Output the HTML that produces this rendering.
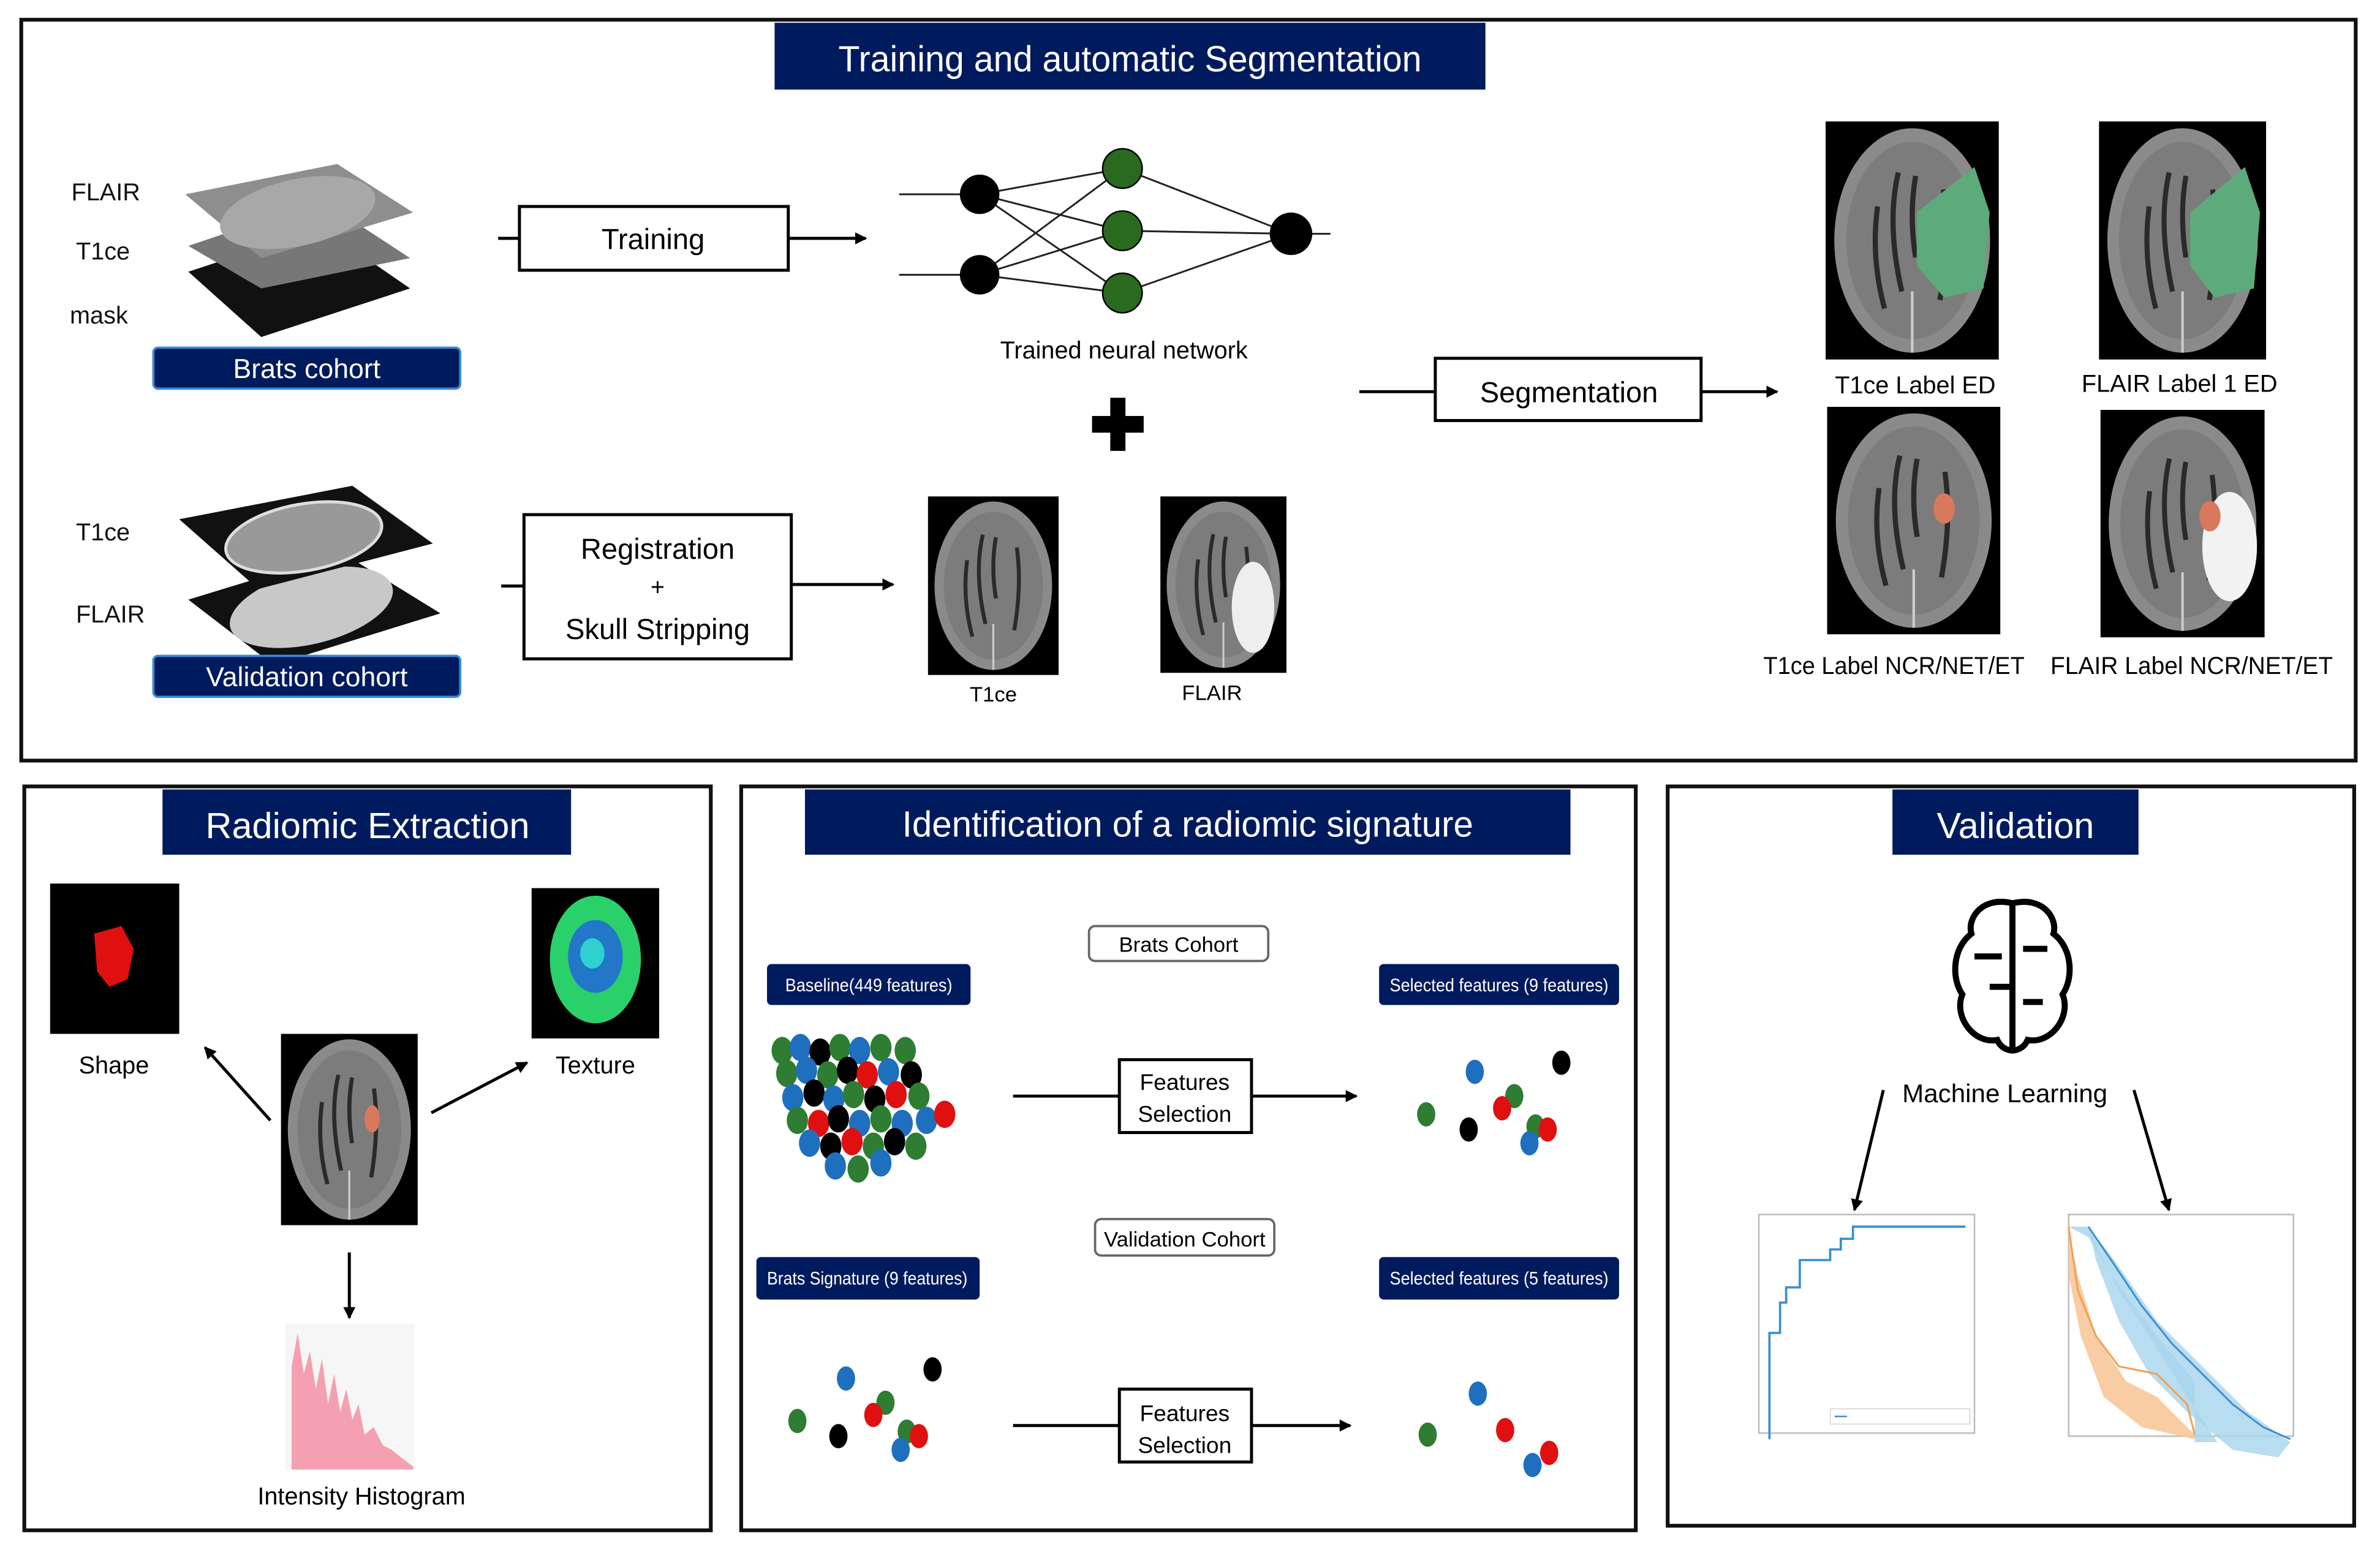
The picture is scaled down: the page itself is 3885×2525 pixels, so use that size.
<!DOCTYPE html>
<html><head><meta charset="utf-8"><style>
html,body{margin:0;padding:0;background:#fff}
svg{display:block}
text{font-family:"Liberation Sans Narrow","Liberation Sans",sans-serif}
</style></head><body>
<svg width="3885" height="2525" viewBox="0 0 1567 1019" preserveAspectRatio="none" xmlns="http://www.w3.org/2000/svg">
<defs>
<marker id="ah" markerWidth="8" markerHeight="8" refX="7" refY="4" orient="auto" markerUnits="userSpaceOnUse"><path d="M0,0 L8,4 L0,8 z" fill="#000"/></marker>
<g id="brain">
<rect x="0" y="0" width="100" height="140" fill="#000"/>
<ellipse cx="50" cy="70" rx="45" ry="66" fill="#8a8a8a"/>
<ellipse cx="50" cy="70" rx="38" ry="58" fill="#7c7c7c"/>
<path d="M42,30 Q35,60 44,100 M52,32 Q48,55 52,80 M30,50 Q26,80 34,110 M68,40 Q72,70 66,105" stroke="#2a2a2a" stroke-width="3" fill="none"/>
<line x1="50" y1="100" x2="50" y2="136" stroke="#ccc" stroke-width="1.5"/>
</g>
</defs>

<rect x="14" y="13" width="1537" height="488" fill="none" stroke="#111" stroke-width="2.5"/>
<rect x="510" y="15" width="468" height="44" fill="#001a5e"/>
<text x="744" y="47" font-size="24" fill="#fff" text-anchor="middle" textLength="384" lengthAdjust="spacingAndGlyphs">Training and automatic Segmentation</text>

<g font-size="16" fill="#111">
<text x="47" y="132">FLAIR</text><text x="50" y="171">T1ce</text><text x="46" y="213">mask</text>
<text x="50" y="356">T1ce</text><text x="50" y="410">FLAIR</text>
</g>
<polygon points="124,179 212,150 270,190 172,222" fill="#111"/>
<polygon points="124,162 212,132 270,170 172,190" fill="#777"/>
<polygon points="122,128 222,108 272,140 172,170" fill="#8e8e8e"/>
<ellipse cx="196" cy="140" rx="52" ry="22" fill="#a8a8a8" transform="rotate(-12 196 140)"/>
<polygon points="124,395 225,364 290,404 180,438" fill="#111"/>
<ellipse cx="205" cy="400" rx="55" ry="24" fill="#c8c8c8" transform="rotate(-14 205 400)"/>
<polygon points="118,342 232,320 285,358 170,388" fill="#111"/>
<ellipse cx="200" cy="354" rx="52" ry="22" fill="#999" stroke="#ddd" stroke-width="2" transform="rotate(-10 200 354)"/>

<rect x="101" y="229" width="202" height="27" rx="3" fill="#001a5e" stroke="#3a8ad8" stroke-width="1.5"/>
<text x="202" y="249" font-size="18" fill="#fff" text-anchor="middle">Brats cohort</text>
<rect x="101" y="432" width="202" height="27" rx="3" fill="#001a5e" stroke="#3a8ad8" stroke-width="1.5"/>
<text x="202" y="452" font-size="18" fill="#fff" text-anchor="middle">Validation cohort</text>

<line x1="328" y1="157" x2="342" y2="157" stroke="#000" stroke-width="2"/>
<rect x="342" y="136" width="177" height="42" fill="#fff" stroke="#000" stroke-width="2"/>
<text x="430" y="164" font-size="19" text-anchor="middle">Training</text>
<line x1="519" y1="157" x2="570" y2="157" stroke="#000" stroke-width="2" marker-end="url(#ah)"/>

<g stroke="#222" stroke-width="1.2">
<line x1="592" y1="128" x2="645" y2="128"/><line x1="592" y1="181" x2="645" y2="181"/>
<line x1="645" y1="128" x2="739" y2="111"/><line x1="645" y1="128" x2="739" y2="152"/><line x1="645" y1="128" x2="739" y2="193"/>
<line x1="645" y1="181" x2="739" y2="111"/><line x1="645" y1="181" x2="739" y2="152"/><line x1="645" y1="181" x2="739" y2="193"/>
<line x1="739" y1="111" x2="850" y2="154"/><line x1="739" y1="152" x2="850" y2="154"/><line x1="739" y1="193" x2="850" y2="154"/>
<line x1="850" y1="154" x2="876" y2="154"/>
</g>
<circle cx="645" cy="128" r="13" fill="#000"/><circle cx="645" cy="181" r="13" fill="#000"/>
<circle cx="739" cy="111" r="13" fill="#2a6a1e" stroke="#000"/><circle cx="739" cy="152" r="13" fill="#2a6a1e" stroke="#000"/><circle cx="739" cy="193" r="13" fill="#2a6a1e" stroke="#000"/>
<circle cx="850" cy="154" r="14" fill="#000"/>
<text x="740" y="236" font-size="16" text-anchor="middle">Trained neural network</text>
<rect x="731" y="262" width="10" height="35" fill="#000"/><rect x="719" y="274" width="34" height="11" fill="#000"/>

<line x1="895" y1="258" x2="945" y2="258" stroke="#000" stroke-width="2"/>
<rect x="945" y="236" width="175" height="41" fill="#fff" stroke="#000" stroke-width="2"/>
<text x="1033" y="265" font-size="19" text-anchor="middle">Segmentation</text>
<line x1="1120" y1="258" x2="1170" y2="258" stroke="#000" stroke-width="2" marker-end="url(#ah)"/>

<line x1="330" y1="386" x2="345" y2="386" stroke="#000" stroke-width="2"/>
<rect x="345" y="339" width="176" height="95" fill="#fff" stroke="#000" stroke-width="2"/>
<text x="433" y="368" font-size="19" text-anchor="middle">Registration</text>
<text x="433" y="392" font-size="16" text-anchor="middle">+</text>
<text x="433" y="421" font-size="19" text-anchor="middle">Skull Stripping</text>
<line x1="521" y1="385" x2="588" y2="385" stroke="#000" stroke-width="2" marker-end="url(#ah)"/>

<use href="#brain" transform="translate(611,327) scale(0.86,0.84)"/>
<use href="#brain" transform="translate(764,327) scale(0.83,0.83)"/>
<ellipse cx="825" cy="400" rx="14" ry="30" fill="#eee"/>
<text x="654" y="462" font-size="14" text-anchor="middle">T1ce</text>
<text x="798" y="461" font-size="14" text-anchor="middle">FLAIR</text>

<use href="#brain" transform="translate(1202,80) scale(1.14,1.12)"/>
<polygon points="1262,140 1300,110 1310,140 1306,190 1280,196 1262,175" fill="#5daa7a"/>
<use href="#brain" transform="translate(1382,80) scale(1.1,1.12)"/>
<polygon points="1442,140 1478,110 1488,140 1484,190 1458,196 1442,175" fill="#5daa7a"/>
<use href="#brain" transform="translate(1203,268) scale(1.14,1.07)"/>
<ellipse cx="1280" cy="335" rx="7" ry="10" fill="#d9785a"/>
<use href="#brain" transform="translate(1383,270) scale(1.08,1.07)"/>
<ellipse cx="1468" cy="360" rx="18" ry="36" fill="#f2f2f2"/>
<ellipse cx="1455" cy="340" rx="7" ry="10" fill="#d9785a"/>
<g font-size="16" text-anchor="middle">
<text x="1261" y="259">T1ce Label ED</text><text x="1435" y="258">FLAIR Label 1 ED</text>
<text x="1247" y="444" textLength="172" lengthAdjust="spacingAndGlyphs">T1ce Label NCR/NET/ET</text><text x="1443" y="444" textLength="186" lengthAdjust="spacingAndGlyphs">FLAIR Label NCR/NET/ET</text>
</g>

<rect x="16" y="518" width="452" height="490" fill="none" stroke="#111" stroke-width="2.5"/>
<rect x="107" y="520" width="269" height="43" fill="#001a5e"/>
<text x="242" y="552" font-size="24" fill="#fff" text-anchor="middle">Radiomic Extraction</text>
<rect x="33" y="582" width="85" height="99" fill="#000"/>
<path d="M62,615 L80,610 L88,625 L84,645 L72,650 L64,640 Z" fill="#e01010"/>
<rect x="350" y="585" width="84" height="99" fill="#000"/>
<ellipse cx="392" cy="632" rx="30" ry="42" fill="#2ad06a"/>
<ellipse cx="392" cy="630" rx="18" ry="24" fill="#2060e0" opacity="0.8"/>
<ellipse cx="390" cy="628" rx="8" ry="10" fill="#30d0d0"/>
<text x="75" y="707" font-size="16" text-anchor="middle">Shape</text>
<text x="392" y="707" font-size="16" text-anchor="middle">Texture</text>
<use href="#brain" transform="translate(185,681) scale(0.9,0.9)"/>
<ellipse cx="245" cy="737" rx="5" ry="9" fill="#d9785a"/>
<line x1="178" y1="738" x2="135" y2="690" stroke="#000" stroke-width="2" marker-end="url(#ah)"/>
<line x1="284" y1="733" x2="347" y2="700" stroke="#000" stroke-width="2" marker-end="url(#ah)"/>
<line x1="230" y1="825" x2="230" y2="868" stroke="#000" stroke-width="2" marker-end="url(#ah)"/>
<rect x="188" y="872" width="85" height="96" fill="#f6f6f6"/>
<path d="M192,968 L192,900 L196,878 L200,905 L204,890 L208,915 L212,895 L216,925 L220,905 L224,930 L228,915 L232,935 L236,925 L240,945 L246,940 L252,952 L258,955 L264,960 L272,966 L272,968 Z" fill="#f4a0b0"/>
<text x="238" y="991" font-size="16" text-anchor="middle">Intensity Histogram</text>

<rect x="488" y="518" width="589" height="490" fill="none" stroke="#111" stroke-width="2.5"/>
<rect x="530" y="520" width="504" height="43" fill="#001a5e"/>
<text x="782" y="551" font-size="24" fill="#fff" text-anchor="middle" textLength="376" lengthAdjust="spacingAndGlyphs">Identification of a radiomic signature</text>
<g font-size="14" text-anchor="middle">
<rect x="717" y="610" width="118" height="23" rx="4" fill="#fff" stroke="#666" stroke-width="1.5"/><text x="776" y="627">Brats Cohort</text>
<rect x="721" y="803" width="118" height="24" rx="4" fill="#fff" stroke="#666" stroke-width="1.5"/><text x="780" y="821">Validation Cohort</text>
</g>
<g font-size="12" fill="#fff" text-anchor="middle">
<rect x="505" y="635" width="134" height="27" rx="3" fill="#001a5e"/><text x="572" y="653" textLength="110" lengthAdjust="spacingAndGlyphs">Baseline(449 features)</text>
<rect x="908" y="635" width="158" height="27" rx="3" fill="#001a5e"/><text x="987" y="653" textLength="144" lengthAdjust="spacingAndGlyphs">Selected features (9 features)</text>
<rect x="498" y="828" width="147" height="28" rx="3" fill="#001a5e"/><text x="571" y="846" textLength="132" lengthAdjust="spacingAndGlyphs">Brats Signature (9 features)</text>
<rect x="908" y="828" width="158" height="28" rx="3" fill="#001a5e"/><text x="987" y="846" textLength="144" lengthAdjust="spacingAndGlyphs">Selected features (5 features)</text>
</g>
<g stroke="#000" stroke-width="2">
<line x1="667" y1="722" x2="737" y2="722"/><line x1="824" y1="722" x2="893" y2="722" marker-end="url(#ah)"/>
<line x1="667" y1="939" x2="737" y2="939"/><line x1="824" y1="939" x2="889" y2="939" marker-end="url(#ah)"/>
</g>
<rect x="737" y="698" width="87" height="48" fill="#fff" stroke="#000" stroke-width="2"/>
<text x="780" y="718" font-size="15" text-anchor="middle">Features</text><text x="780" y="739" font-size="15" text-anchor="middle">Selection</text>
<rect x="737" y="915" width="87" height="48" fill="#fff" stroke="#000" stroke-width="2"/>
<text x="780" y="936" font-size="15" text-anchor="middle">Features</text><text x="780" y="957" font-size="15" text-anchor="middle">Selection</text>

<g>
<ellipse cx="515" cy="692" rx="7" ry="9" fill="#2e7d32"/><ellipse cx="527" cy="690" rx="7" ry="9" fill="#1f6fbf"/><ellipse cx="540" cy="693" rx="7" ry="9" fill="#000"/><ellipse cx="553" cy="690" rx="7" ry="9" fill="#2e7d32"/><ellipse cx="566" cy="692" rx="7" ry="9" fill="#1f6fbf"/><ellipse cx="580" cy="690" rx="7" ry="9" fill="#2e7d32"/><ellipse cx="596" cy="692" rx="7" ry="9" fill="#2e7d32"/>
<ellipse cx="518" cy="707" rx="7" ry="9" fill="#2e7d32"/><ellipse cx="531" cy="705" rx="7" ry="9" fill="#1f6fbf"/><ellipse cx="545" cy="708" rx="7" ry="9" fill="#2e7d32"/><ellipse cx="558" cy="705" rx="7" ry="9" fill="#000"/><ellipse cx="571" cy="708" rx="7" ry="9" fill="#e01010"/><ellipse cx="585" cy="706" rx="7" ry="9" fill="#1f6fbf"/><ellipse cx="600" cy="708" rx="7" ry="9" fill="#000"/>
<ellipse cx="522" cy="723" rx="7" ry="9" fill="#1f6fbf"/><ellipse cx="536" cy="720" rx="7" ry="9" fill="#000"/><ellipse cx="549" cy="724" rx="7" ry="9" fill="#1f6fbf"/><ellipse cx="562" cy="721" rx="7" ry="9" fill="#2e7d32"/><ellipse cx="576" cy="724" rx="7" ry="9" fill="#000"/><ellipse cx="590" cy="721" rx="7" ry="9" fill="#e01010"/><ellipse cx="605" cy="722" rx="7" ry="9" fill="#2e7d32"/>
<ellipse cx="525" cy="738" rx="7" ry="9" fill="#2e7d32"/><ellipse cx="539" cy="740" rx="7" ry="9" fill="#e01010"/><ellipse cx="552" cy="737" rx="7" ry="9" fill="#000"/><ellipse cx="566" cy="740" rx="7" ry="9" fill="#1f6fbf"/><ellipse cx="580" cy="737" rx="7" ry="9" fill="#2e7d32"/><ellipse cx="594" cy="740" rx="7" ry="9" fill="#1f6fbf"/><ellipse cx="610" cy="738" rx="7" ry="9" fill="#1f6fbf"/><ellipse cx="622" cy="734" rx="7" ry="9" fill="#e01010"/>
<ellipse cx="533" cy="753" rx="7" ry="9" fill="#1f6fbf"/><ellipse cx="547" cy="755" rx="7" ry="9" fill="#000"/><ellipse cx="561" cy="752" rx="7" ry="9" fill="#e01010"/><ellipse cx="575" cy="755" rx="7" ry="9" fill="#2e7d32"/><ellipse cx="589" cy="752" rx="7" ry="9" fill="#000"/><ellipse cx="603" cy="755" rx="7" ry="9" fill="#2e7d32"/>
<ellipse cx="550" cy="768" rx="7" ry="9" fill="#1f6fbf"/><ellipse cx="565" cy="770" rx="7" ry="9" fill="#2e7d32"/><ellipse cx="580" cy="766" rx="7" ry="9" fill="#1f6fbf"/>
</g>
<g>
<ellipse cx="1028" cy="700" rx="6" ry="8" fill="#000"/><ellipse cx="971" cy="706" rx="6" ry="8" fill="#1f6fbf"/><ellipse cx="997" cy="722" rx="6" ry="8" fill="#2e7d32"/><ellipse cx="989" cy="730" rx="6" ry="8" fill="#e01010"/><ellipse cx="939" cy="734" rx="6" ry="8" fill="#2e7d32"/><ellipse cx="967" cy="744" rx="6" ry="8" fill="#000"/><ellipse cx="1011" cy="742" rx="6" ry="8" fill="#2e7d32"/><ellipse cx="1019" cy="744" rx="6" ry="8" fill="#e01010"/><ellipse cx="1007" cy="753" rx="6" ry="8" fill="#1f6fbf"/>
<ellipse cx="614" cy="902" rx="6" ry="8" fill="#000"/><ellipse cx="557" cy="908" rx="6" ry="8" fill="#1f6fbf"/><ellipse cx="583" cy="924" rx="6" ry="8" fill="#2e7d32"/><ellipse cx="575" cy="932" rx="6" ry="8" fill="#e01010"/><ellipse cx="525" cy="936" rx="6" ry="8" fill="#2e7d32"/><ellipse cx="552" cy="946" rx="6" ry="8" fill="#000"/><ellipse cx="597" cy="943" rx="6" ry="8" fill="#2e7d32"/><ellipse cx="605" cy="946" rx="6" ry="8" fill="#e01010"/><ellipse cx="593" cy="955" rx="6" ry="8" fill="#1f6fbf"/>
<ellipse cx="973" cy="918" rx="6" ry="8" fill="#1f6fbf"/><ellipse cx="991" cy="942" rx="6" ry="8" fill="#e01010"/><ellipse cx="940" cy="945" rx="6" ry="8" fill="#2e7d32"/><ellipse cx="1020" cy="957" rx="6" ry="8" fill="#e01010"/><ellipse cx="1009" cy="965" rx="6" ry="8" fill="#1f6fbf"/>
</g>

<rect x="1098" y="518" width="452" height="487" fill="none" stroke="#111" stroke-width="2.5"/>
<rect x="1246" y="520" width="162" height="43" fill="#001a5e"/>
<text x="1327" y="552" font-size="24" fill="#fff" text-anchor="middle">Validation</text>
<g fill="none" stroke="#000" stroke-width="4">
<path d="M1325,595 C1305,590 1295,605 1298,615 C1285,625 1285,645 1292,655 C1286,670 1300,688 1315,685 C1318,692 1325,692 1325,692"/>
<path d="M1325,595 C1345,590 1355,605 1352,615 C1365,625 1365,645 1358,655 C1364,670 1350,688 1335,685 C1332,692 1325,692 1325,692"/>
<line x1="1325" y1="595" x2="1325" y2="692"/>
<path d="M1300,630 H1318 M1310,650 H1325 M1332,625 H1348 M1332,660 H1345"/>
</g>
<text x="1320" y="726" font-size="17" text-anchor="middle">Machine Learning</text>
<line x1="1240" y1="718" x2="1221" y2="797" stroke="#000" stroke-width="2" marker-end="url(#ah)"/>
<line x1="1405" y1="718" x2="1428" y2="797" stroke="#000" stroke-width="2" marker-end="url(#ah)"/>
<rect x="1158" y="800" width="142" height="144" fill="#fff" stroke="#bbb" stroke-width="1"/>
<path d="M1165,940 L1165,870 L1172,870 L1172,850 L1176,850 L1176,840 L1185,840 L1185,822 L1205,822 L1205,815 L1212,815 L1212,808 L1220,808 L1220,800 L1294,800" fill="none" stroke="#3a90d0" stroke-width="1.5" transform="translate(0,8)"/>
<rect x="1205" y="928" width="92" height="10" fill="#fff" stroke="#ccc" stroke-width="0.5"/>
<line x1="1208" y1="933" x2="1216" y2="933" stroke="#3a90d0"/>
<rect x="1362" y="800" width="148" height="146" fill="#fff" stroke="#bbb" stroke-width="1"/>
<path d="M1362,808 L1375,808 L1380,820 L1395,850 L1415,880 L1440,920 L1460,950 L1445,950 L1445,910 L1420,880 L1390,840 L1375,815 Z" fill="#a8d4ec" opacity="0.8"/>
<path d="M1375,808 L1392,830 L1420,870 L1450,900 L1480,930 L1508,950 L1500,960 L1470,955 L1440,930 L1415,905 L1395,870 L1380,830 Z" fill="#a8d4ec" opacity="0.8"/>
<path d="M1362,810 L1368,840 L1380,880 L1400,910 L1420,920 L1445,945 L1445,948 L1410,940 L1385,920 L1370,880 L1362,840 Z" fill="#f7c89a" opacity="0.9"/>
<path d="M1375,808 L1390,830 L1410,860 L1430,885 L1450,905 L1470,925 L1490,940 L1508,948" fill="none" stroke="#3a90d0" stroke-width="1.2"/>
<path d="M1362,808 L1368,850 L1380,880 L1395,900 L1420,905 L1440,925 L1445,945" fill="none" stroke="#f0a050" stroke-width="1.2"/>
</svg>
</body></html>
